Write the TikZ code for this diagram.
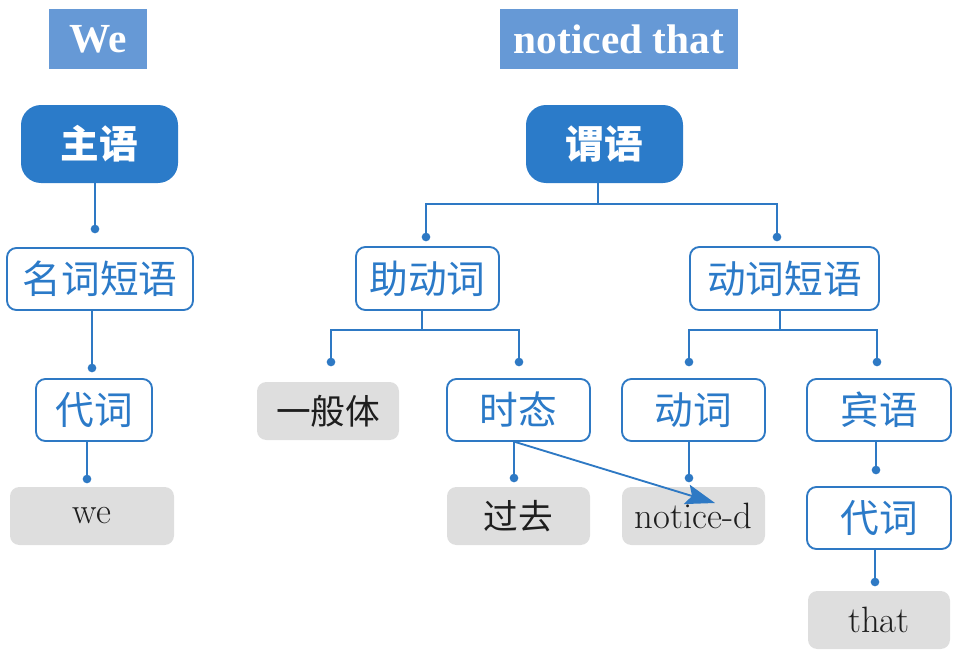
\documentclass[tikz,border=0pt]{standalone}
\usepackage{fontspec}
\newfontfamily\cjk{Noto Sans CJK SC}
\newfontfamily\hdrfont{Liberation Serif}
\usetikzlibrary{arrows.meta}
\definecolor{hdrblue}{HTML}{6699D6}
\definecolor{darkblue}{HTML}{2B7BC9}
\definecolor{lineblue}{HTML}{2E79C4}
\definecolor{txtblue}{HTML}{2B7AC8}
\definecolor{gbg}{HTML}{DEDEDE}
\definecolor{gtxt}{HTML}{1E1E1E}
\begin{document}
\begin{tikzpicture}[x=0.75pt,y=-0.75pt,
 sz/.style 2 args={minimum width=#1*0.75pt,minimum height=#2*0.75pt},
 hdr/.style={fill=hdrblue,text=white,inner sep=0pt,font=\hdrfont\bfseries\fontsize{31}{31}\selectfont},
 dark/.style={fill=darkblue,text=white,rounded corners=15pt,inner sep=0pt,font=\cjk\bfseries\fontsize{29}{29}\selectfont},
 bbox/.style={draw=lineblue,line width=1.4pt,fill=white,rounded corners=7pt,inner sep=0pt,text=txtblue,font=\cjk\fontsize{29}{29}\selectfont},
 gbox/.style={fill=gbg,rounded corners=7pt,inner sep=0pt,text=gtxt,font=\cjk\fontsize{26}{26}\selectfont},
 gboxl/.style={gbox,font=\fontsize{27.5}{27.5}\selectfont},
 conn/.style={draw=lineblue,line width=1.4pt},
 dotc/.style={fill=lineblue,circle,inner sep=0pt,minimum size=6.5pt}
]
\useasboundingbox (0,0) rectangle (960,660);
% headers
\node[hdr,sz={98}{60}] (hwe) at (98,39) {We};
\node[hdr,sz={238}{60}] (hnt) at (619,39) {noticed that};
% top nodes
\node[dark,sz={157}{78}] (zhuyu) at (99.5,144) {主语};
\node[dark,sz={157}{78}] (weiyu) at (604.5,144) {谓语};
% left column
\node[bbox,sz={186}{62}] (mcdy) at (100,279) {名词短语};
\node[bbox,sz={116}{62}] (dcL) at (94,410) {代词};
\node[gboxl,sz={164}{58}] (we) at (92,516) {we};
% right part
\node[bbox,sz={143}{63}] (zdc) at (427.5,278.5) {助动词};
\node[bbox,sz={189}{63}] (dcdy) at (784.5,278.5) {动词短语};
\node[gbox,sz={142}{58}] (ybt) at (328,411) {一般体};
\node[bbox,sz={143}{62}] (shitai) at (518.5,410) {时态};
\node[bbox,sz={143}{62}] (dongci) at (693.5,410) {动词};
\node[bbox,sz={144}{62}] (binyu) at (879,410) {宾语};
\node[gbox,sz={143}{58}] (guoqu) at (518.5,516) {过去};
\node[gboxl,sz={143}{58}] (noticed) at (693.5,516) {notice-d};
\node[bbox,sz={144}{62}] (dcR) at (879,518) {代词};
\node[gboxl,sz={142}{58}] (that) at (879,620) {that};
% dots
\node[dotc] (d1) at (95,229) {};
\node[dotc] (d2) at (92,368) {};
\node[dotc] (d3) at (87,479) {};
\node[dotc] (d4) at (426,237) {};
\node[dotc] (d5) at (777,237) {};
\node[dotc] (d6) at (331,362) {};
\node[dotc] (d7) at (519,362) {};
\node[dotc] (d8) at (689,362) {};
\node[dotc] (d9) at (877,362) {};
\node[dotc] (d10) at (514,478) {};
\node[dotc] (d11) at (689,478) {};
\node[dotc] (d12) at (876,470) {};
\node[dotc] (d13) at (875,582) {};
\coordinate (b1) at (598,204);
\coordinate (b2) at (422,330);
\coordinate (b3) at (780,330);
\coordinate (atip) at (715,503);
% connectors
\draw[conn] (zhuyu.south -| d1) -- (d1.center);
\draw[conn] (mcdy.south -| d2) -- (d2.center);
\draw[conn] (dcL.south -| d3) -- (d3.center);
\draw[conn] (weiyu.south -| b1) -- (b1);
\draw[conn] (d4.center) |- (b1) -| (d5.center);
\draw[conn] (zdc.south -| b2) -- (b2);
\draw[conn] (d6.center) |- (b2) -| (d7.center);
\draw[conn] (dcdy.south -| b3) -- (b3);
\draw[conn] (d8.center) |- (b3) -| (d9.center);
\draw[conn] (shitai.south -| d10) -- (d10.center);
\draw[conn] (dongci.south -| d11) -- (d11.center);
\draw[conn] (binyu.south -| d12) -- (d12.center);
\draw[conn] (dcR.south -| d13) -- (d13.center);
\draw[conn,-{Stealth[length=22pt,width=15pt,inset=4pt]}] ([xshift=-2.6pt]shitai.south) -- (atip);
\end{tikzpicture}
\end{document}
